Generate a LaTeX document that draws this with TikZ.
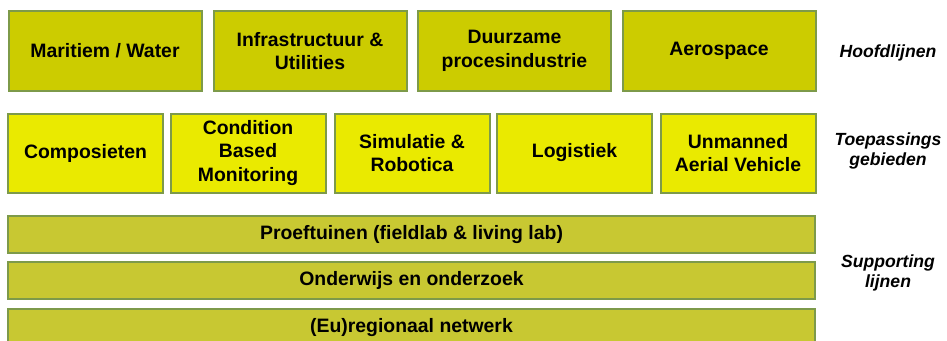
\documentclass[tikz,border=0pt]{standalone}
\usepackage{fontspec}
\setmainfont{Liberation Sans}
\usetikzlibrary{positioning}

\definecolor{hoofdfill}{HTML}{CCCC00}
\definecolor{toepfill}{HTML}{EAEA00}
\definecolor{supportfill}{HTML}{C8C832}
\definecolor{boxline}{HTML}{7D9A4A}

\begin{document}
\begin{tikzpicture}[
    x=1pt, y=-1pt,
    box/.style={draw=boxline, line width=2pt, align=center, inner sep=2pt,
        font=\fontsize{19.4}{23.5}\selectfont\bfseries},
    hoofd/.style={box, fill=hoofdfill, minimum width=193pt, minimum height=80pt},
    toep/.style={box, fill=toepfill, minimum width=155pt, minimum height=79pt},
    support/.style={box, fill=supportfill, minimum width=807pt, minimum height=37pt},
    laag/.style={align=center, font=\fontsize{17.6}{20.5}\selectfont\bfseries\itshape}
]

\clip (0,0) rectangle (947,340);

% Hoofdlijnen
\node[hoofd] (maritiem) at (105,51) {Maritiem / Water};
\node[hoofd] (infra) at (310,51) {Infrastructuur \&\\Utilities};
\node[hoofd] (proces) at (514.5,51) {Duurzame\\procesindustrie};
\node[hoofd] (aero) at (719,51) {Aerospace};

% Toepassingsgebieden
\node[toep] (compo) at (85.5,153) {Composieten};
\node[toep] (cbm) at (248,153) {Condition\\Based\\Monitoring};
\node[toep] (simu) at (412,153) {Simulatie \&\\Robotica};
\node[toep] (logi) at (574.5,153) {Logistiek};
\node[toep] (uav) at (738,153) {Unmanned\\Aerial Vehicle};

% Supporting lijnen
\node[support] (proef) at (411.5,234.5) {Proeftuinen (fieldlab \& living lab)};
\node[support] (onderwijs) at (411.5,280.5) {Onderwijs en onderzoek};
\node[support] (netwerk) at (411.5,327.5) {(Eu)regionaal netwerk};

% Labels rechts
\node[laag] (lhoofd) at (888,53) {Hoofdlijnen};
\node[laag] (ltoep) at (888,151) {Toepassings\\gebieden};
\node[laag] (lsupport) at (888,273) {Supporting\\lijnen};

\end{tikzpicture}
\end{document}
